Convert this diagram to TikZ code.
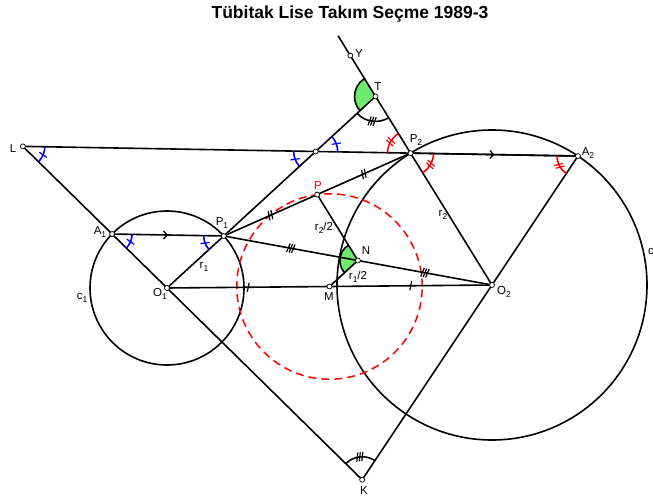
\documentclass[tikz,border=0pt]{standalone}
\usepackage{fontspec}
\setmainfont{Liberation Sans}
\usetikzlibrary{calc, arrows.meta, decorations.markings}

\definecolor{sectgreen}{RGB}{110,235,110}

% lowered index for the labels
\newcommand{\low}[1]{\raisebox{-0.45ex}{\fontsize{8.5}{8.5}\selectfont #1}}

% angle arc: vertex, from point, to point (counter-clockwise), radius, style
\newcommand{\angarc}[5]{%
  \draw[#5] let \p1=($(#2)-(#1)$), \p2=($(#3)-(#1)$),
    \n1={atan2(\y1,\x1)}, \n2={\n1+mod(atan2(\y2,\x2)-\n1+720,360)} in
    ($(#1)+(\n1:#4)$) arc[start angle=\n1, end angle=\n2, radius=#4];}
% filled angle sector
\newcommand{\angsector}[4]{%
  \fill[sectgreen] let \p1=($(#2)-(#1)$), \p2=($(#3)-(#1)$),
    \n1={atan2(\y1,\x1)}, \n2={\n1+mod(atan2(\y2,\x2)-\n1+720,360)} in
    (#1) -- ($(#1)+(\n1:#4)$) arc[start angle=\n1, end angle=\n2, radius=#4] -- cycle;
  \angarc{#1}{#2}{#3}{#4}{geo}}

\begin{document}
\begin{tikzpicture}[x=1pt, y=1pt,
    every node/.style={font=\fontsize{11.5}{12}\selectfont, inner sep=0pt},
    geo/.style={line width=1.6pt},
    reddash/.style={red, line width=1.5pt, dash pattern=on 8pt off 5pt},
    pt/.style={circle, draw, fill=white, line width=0.7pt, minimum size=5pt},
    tick1/.style={postaction={decorate, decoration={markings,
      mark=at position 0.5 with {\draw[line width=1.2pt] (-1pt,-4.5pt) -- (1pt,4.5pt);}}}},
    tick2/.style={postaction={decorate, decoration={markings,
      mark=at position 0.5 with {\draw[line width=1.2pt] (-2.5pt,-4.5pt) -- (-0.5pt,4.5pt) (0.5pt,-4.5pt) -- (2.5pt,4.5pt);}}}},
    tick3/.style={postaction={decorate, decoration={markings,
      mark=at position 0.5 with {\draw[line width=1.2pt] (-3.5pt,-4.5pt) -- (-1.5pt,4.5pt) (-1pt,-4.5pt) -- (1pt,4.5pt) (1.5pt,-4.5pt) -- (3.5pt,4.5pt);}}}},
    midarrow/.style={postaction={decorate, decoration={markings,
      mark=at position 0.5 with {\arrow{Straight Barb[length=3.5pt, width=8pt, line width=1.3pt]}}}}}
  ]
  \useasboundingbox (0,0) rectangle (653,499);

  \node[font=\bfseries\fontsize{17.5}{20}\selectfont] (title) at (350,485) {Tübitak Lise Takım Seçme 1989-3};

  % points
  \coordinate (O1) at (167,211);
  \coordinate (O2) at (492,214);
  \coordinate (P1) at ($(O1)+(42.5:77)$);
  \coordinate (A1) at ($(O1)+(135.5:77)$);
  \coordinate (P2) at ($(O2)+(121.7:155)$);
  \coordinate (A2) at ($(O2)+(56.3:155)$);
  \coordinate (T) at ($(O2)!1.43!(P2)$);
  \coordinate (Y) at ($(O2)!1.74!(P2)$);
  \coordinate (Yend) at ($(O2)!1.89!(P2)$);
  \coordinate (L) at (intersection of A1--O1 and P2--A2);
  \coordinate (K) at (intersection of A1--O1 and A2--O2);
  \coordinate (Q) at (intersection of P1--T and L--P2);
  \coordinate (P) at ($(P1)!0.5!(P2)$);
  \coordinate (N) at ($(P1)!0.5!(O2)$);
  \coordinate (M) at ($(O1)!0.5!(O2)$);

  % green angles
  \angsector{T}{Y}{Q}{21}
  \angsector{N}{P}{M}{18}

  % circles
  \draw[geo] (O1) circle[radius=77];
  \draw[geo] (O2) circle[radius=155];
  \draw[reddash] let \p1=($(P)-(M)$) in (M) circle[radius={veclen(\x1,\y1)}];

  % lines
  \draw[geo] (L) -- (K);
  \draw[geo] (L) -- (A2);
  \draw[geo] (P1) -- (T);
  \draw[geo] (Yend) -- (O2);
  \draw[geo] (A2) -- (K);
  \draw[geo, midarrow] (A1) -- (P1);
  \draw[geo, midarrow] (P2) -- (A2);
  \draw[geo, tick2] (P1) -- (P);
  \draw[geo, tick2] (P) -- (P2);
  \draw[geo, tick3] (P1) -- (N);
  \draw[geo, tick3] (N) -- (O2);
  \draw[geo, tick1] (O1) -- (M);
  \draw[geo, tick1] (M) -- (O2);
  \draw[geo] (P1) -- (O1);
  \draw[geo] (P) -- (N) -- (M);

  % angle arcs
  \angarc{L}{A1}{P2}{22}{blue, geo, tick1}
  \angarc{A1}{O1}{P1}{20}{blue, geo, tick1}
  \angarc{P1}{A1}{O1}{20}{blue, geo, tick1}
  \angarc{Q}{L}{P1}{22}{blue, geo, tick1}
  \angarc{Q}{P2}{T}{22}{blue, geo, tick1}
  \angarc{P2}{T}{L}{23}{red, geo, tick2}
  \angarc{P2}{O2}{A2}{23}{red, geo, tick2}
  \angarc{A2}{P2}{O2}{21}{red, geo, tick2}
  \angarc{T}{Q}{P2}{25}{geo, tick3}
  \angarc{K}{O2}{O1}{23}{geo, tick3}

  % point marks
  \foreach \p in {L,A1,P1,O1,Q,T,Y,P2,A2,O2,K,P,N,M}
    \node[pt] (d\p) at (\p) {};

  % labels
  \node (tY) at (359,445) {Y};
  \node (tT) at (378,412) {T};
  \node (tP2) at (416,359) {P\low{2}};
  \node (tA2) at (588,346) {A\low{2}};
  \node (tL) at (13,350) {L};
  \node (tA1) at (100,267) {A\low{1}};
  \node (tP1) at (222,276) {P\low{1}};
  \node (tO1) at (160,205) {O\low{1}};
  \node (tc1) at (82,201) {c\low{1}};
  \node (tr1) at (204,232) {r\low{1}};
  \node[red] (tP) at (318,313) {P};
  \node (tr2h) at (324,271) {r\low{2}/2};
  \node (tN) at (366,248) {N};
  \node (tr1h) at (358,222) {r\low{1}/2};
  \node (tM) at (329,202) {M};
  \node (tO2) at (504,207) {O\low{2}};
  \node (tr2) at (443,284) {r\low{2}};
  \node[anchor=west] (tc2) at (648,246) {c\low{2}};
  \node (tK) at (364,8) {K};
\end{tikzpicture}
\end{document}
